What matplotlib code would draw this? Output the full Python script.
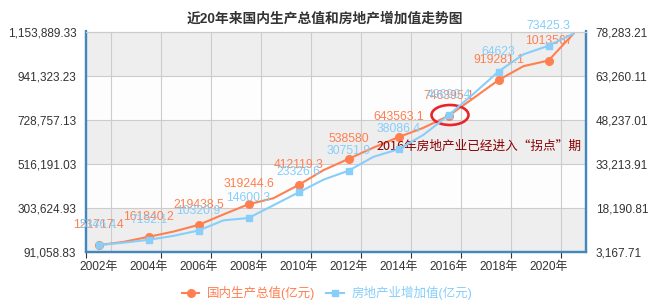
import matplotlib
matplotlib.use('Agg')
import matplotlib.pyplot as plt
from matplotlib.patches import Ellipse
from matplotlib.lines import Line2D

plt.rcParams['font.family'] = ['Liberation Sans', 'Noto Sans CJK SC', 'DejaVu Sans']

# data
years = list(range(2002, 2022))
gdp = [121717.4, 137422.0, 161840.2, 187318.9, 219438.5, 270232.3, 319244.6, 348517.7,
       412119.3, 484123.5, 538580.0, 592963.2, 643563.1, 688858.2, 746395.1, 832035.9,
       919281.1, 986515.2, 1013567.0, 1143669.7]
estate = [5346.4, 6172.7, 7152.1, 8516.4, 10320.9, 13809.7, 14600.3, 18966.9, 23326.6, 27700.0,
          30751.9, 35500.0, 38086.4, 43000.0, 49690.4, 57000.0, 64623.0, 70500.0, 73425.3, 77561.0]
left_ticks = [91058.83, 303624.93, 516191.03, 728757.13, 941323.23, 1153889.33]
right_ticks = [3167.71, 18190.81, 33213.91, 48237.01, 63260.11, 78283.21]
label_years = [2002, 2004, 2006, 2008, 2010, 2012, 2014, 2016, 2018, 2020]

orange = '#ff7f50'
blue = '#87cefa'
axis_blue = '#4488bb'


def fmt(v):
    return ('%.1f' % v).rstrip('0').rstrip('.')


fig = plt.figure(figsize=(6.58, 3.04), dpi=100)
ax = fig.add_axes([86 / 658, (304 - 251.5) / 304, 500 / 658, 220 / 304])
ax2 = ax.twinx()

# background bands and grid
for i in range(5):
    c = '#eeeeee' if i % 2 == 0 else '#fdfdfd'
    ax.axhspan(left_ticks[i], left_ticks[i + 1], color=c, zorder=0, lw=0)
for y in left_ticks[1:]:
    ax.axhline(y, color='#cccccc', lw=0.8, zorder=0.5)
for x in range(2002, 2021, 2):
    ax.axvline(x + 0.5, color='#cccccc', lw=0.8, zorder=0.5)

ax.plot(years, gdp, color=orange, lw=1.5, zorder=3)
ax2.plot(years, estate, color=blue, lw=1.5, zorder=3)
idx = [years.index(y) for y in label_years]
ax.plot([years[i] for i in idx], [gdp[i] for i in idx], 'o', color=orange, ms=5.5, zorder=4)
ax2.plot([years[i] for i in idx], [estate[i] for i in idx], 's', color=blue, ms=5, zorder=4)

for i in idx:
    ax.annotate(fmt(gdp[i]), (years[i], gdp[i]), xytext=(0, 20), textcoords='offset pixels',
                ha='center', va='center', color=orange, fontsize=8.8, zorder=5)
    ax2.annotate(fmt(estate[i]), (years[i], estate[i]), xytext=(0, 20), textcoords='offset pixels',
                 ha='center', va='center', color=blue, fontsize=8.8, zorder=5)

ax.set_xlim(2001.5, 2021.5)
ax.set_ylim(left_ticks[0], left_ticks[-1])
ax2.set_ylim(right_ticks[0], right_ticks[-1])

ax.set_xticks(label_years)
ax.set_xticklabels(['%d年' % y for y in label_years])
ax.set_xticks([2001.5] + [y + 0.5 for y in range(2004, 2021, 2)], minor=True)
ax.tick_params(axis='x', which='major', length=0, pad=7, labelsize=8.6, labelcolor='#333333')
ax.tick_params(axis='x', which='minor', length=4, width=0.8, color='#333333')

ax.set_yticks(left_ticks)
ax.set_yticklabels(['{:,.2f}'.format(v) for v in left_ticks])
ax.tick_params(axis='y', length=0, pad=7, labelsize=8.5, labelcolor='#333333')
ax2.set_yticks(right_ticks)
ax2.set_yticklabels(['{:,.2f}'.format(v) for v in right_ticks])
ax2.tick_params(axis='y', length=0, pad=7, labelsize=8.5, labelcolor='#333333')

for a in (ax, ax2):
    a.spines['top'].set_color('#cccccc')
    a.spines['top'].set_linewidth(0.8)
    a.spines['left'].set_color(axis_blue)
    a.spines['left'].set_linewidth(1.6)
    a.spines['right'].set_color(axis_blue)
    a.spines['right'].set_linewidth(1.6)
    a.spines['bottom'].set_color(axis_blue)
    a.spines['bottom'].set_linewidth(1.6)

# highlight of the turning point
ax.add_patch(Ellipse((2016.06, 750500), 1.48, 96600, fill=False, ec='#e8262a', lw=1.9, zorder=6))
ax.text(2013.13, 598300, '2016年房地产业已经进入“拐点”期', color='#8b0000', fontsize=9.1,
        family=['Noto Sans CJK SC', 'DejaVu Sans'],
        ha='left', va='center', zorder=6, clip_on=True)

fig.text(325 / 658, 1 - 19 / 304, '近20年来国内生产总值和房地产增加值走势图', ha='center', va='center',
         fontsize=9.9, fontweight='bold', color='#333333')

handles = [Line2D([], [], color=orange, marker='o', lw=1.5, ms=5.5),
           Line2D([], [], color=blue, marker='s', lw=1.5, ms=5)]
fig.legend(handles, ['国内生产总值(亿元)', '房地产业增加值(亿元)'], loc='center',
           bbox_to_anchor=(327 / 658, 1 - 293 / 304), ncol=2, frameon=False, fontsize=9,
           handlelength=1.4, handletextpad=0.6, columnspacing=0.9, labelcolor='linecolor')

fig.savefig('out.png', dpi=100)
